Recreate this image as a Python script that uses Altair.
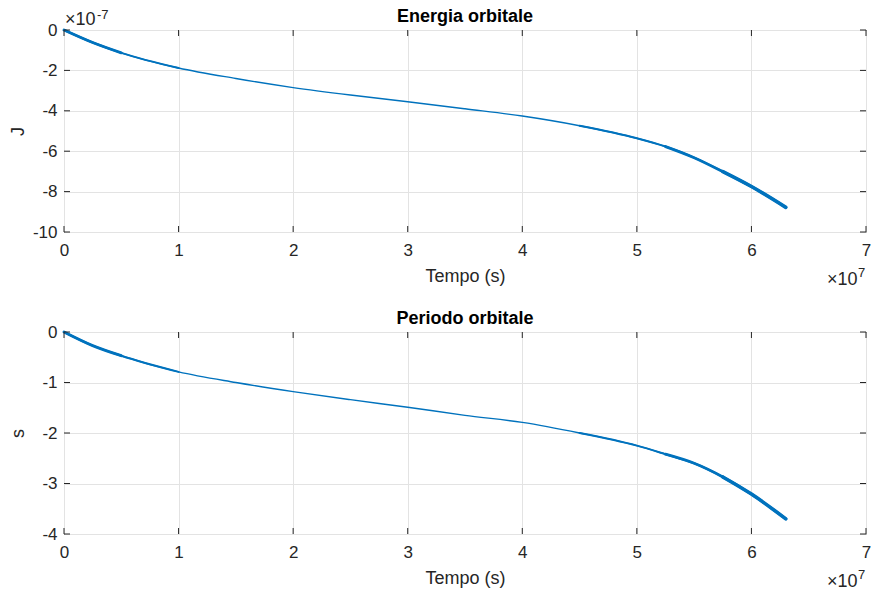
import altair as alt
import pandas as pd

# ---- data (time in units of 1e7 s) ----
t_vals = [0, 0.25, 0.5, 1.0, 1.5, 2.0, 2.5, 3.0, 3.5, 4.0, 4.5, 5.0, 5.25, 5.5, 5.75, 6.0, 6.3]
energy = [0, -0.62, -1.13, -1.88, -2.4, -2.85, -3.22, -3.55, -3.9, -4.26, -4.74, -5.36, -5.77, -6.32, -7.01, -7.75, -8.78]  # x 1e-7 J
period = [0, -0.27, -0.47, -0.79, -1.0, -1.18, -1.34, -1.49, -1.65, -1.79, -2.0, -2.25, -2.42, -2.6, -2.87, -3.21, -3.70]  # s

x_ticks = [0, 1, 2, 3, 4, 5, 6, 7]
energy_ticks = [0, -2, -4, -6, -8, -10]
period_ticks = [0, -1, -2, -3, -4]

title_top = "Energia orbitale"
title_bottom = "Periodo orbitale"
x_title = "Tempo (s)"
y_title_top = "J"
y_title_bottom = "s"
mult_text = ["×10"]
exp_top = ["-7"]
exp_x = ["7"]

# ---- style ----
W, H = 802, 202
AX = "#262626"
GRID = "#e3e3e3"
BLUE = "#0072BD"
FONT = "Liberation Sans"
# (t_lo, t_hi, stroke width) for the visually thicker parts of the curve
segments = [(0, 7, 1.4), (0, 1.0, 2.0), (0, 0.5, 2.9), (4.5, 7, 2.0), (5.25, 7, 2.8), (5.75, 7, 3.6)]


def panel(vals, title, ytitle, yticks, top_exp, title_offset):
    ymin = min(yticks)
    xs = alt.Scale(domain=[min(x_ticks), max(x_ticks)], nice=False, zero=False)
    ys = alt.Scale(domain=[ymin, 0], nice=False, zero=False)
    xaxis = alt.Axis(values=x_ticks, title=x_title, grid=True, gridColor=GRID, domain=False,
                     ticks=False, tickSize=0, labelPadding=10, labelFontSize=17, labelFont=FONT,
                     labelColor=AX, labelFlush=False, labelExpr="'' + datum.value",
                     titleFont=FONT, titleFontSize=18, titleFontWeight="normal", titleColor=AX,
                     titleY=49, titleBaseline="alphabetic")
    yaxis = alt.Axis(values=yticks, title=ytitle, grid=True, gridColor=GRID, domain=False,
                     ticks=False, tickSize=0, labelPadding=7, labelFontSize=17, labelFont=FONT,
                     labelColor=AX, labelFlush=False, labelExpr="'' + datum.value",
                     titleFont=FONT, titleFontSize=18, titleFontWeight="normal", titleColor=AX,
                     titleX=-46, titleY=H / 2, titleBaseline="middle")
    df = pd.DataFrame({"t": t_vals, "v": vals})
    xe = alt.X("t:Q", scale=xs, axis=xaxis)
    ye = alt.Y("v:Q", scale=ys, axis=yaxis)
    layers = []
    for lo, hi, w in segments:
        layers.append(
            alt.Chart(df)
            .transform_filter((alt.datum.t >= lo) & (alt.datum.t <= hi))
            .mark_line(interpolate="monotone", strokeWidth=w, color=BLUE, strokeCap="round")
            .encode(x=xe, y=ye)
        )
    xt = pd.DataFrame({"t": x_ticks})
    yt = pd.DataFrame({"v": yticks})
    layers.append(alt.Chart(xt).mark_rule(color=AX, strokeWidth=1).encode(x=xe, y=alt.value(H), y2=alt.value(H - 6)))
    layers.append(alt.Chart(xt).mark_rule(color=AX, strokeWidth=1).encode(x=xe, y=alt.value(0), y2=alt.value(6)))
    layers.append(alt.Chart(yt).mark_rule(color=AX, strokeWidth=1).encode(y=ye, x=alt.value(0), x2=alt.value(6)))
    layers.append(alt.Chart(yt).mark_rule(color=AX, strokeWidth=1).encode(y=ye, x=alt.value(W), x2=alt.value(W - 6)))
    # x-axis multiplier  x10^7
    layers.append(alt.Chart(pd.DataFrame({"s": mult_text})).mark_text(
        align="left", baseline="alphabetic", font=FONT, fontSize=18, color=AX
    ).encode(text="s:N", x=alt.value(763), y=alt.value(H + 53)))
    layers.append(alt.Chart(pd.DataFrame({"s": exp_x})).mark_text(
        align="left", baseline="alphabetic", font=FONT, fontSize=13, color=AX
    ).encode(text="s:N", x=alt.value(794), y=alt.value(H + 45)))
    if top_exp:
        layers.append(alt.Chart(pd.DataFrame({"s": mult_text})).mark_text(
            align="left", baseline="alphabetic", font=FONT, fontSize=18, color=AX
        ).encode(text="s:N", x=alt.value(1), y=alt.value(-5)))
        layers.append(alt.Chart(pd.DataFrame({"s": top_exp})).mark_text(
            align="left", baseline="alphabetic", font=FONT, fontSize=13, color=AX
        ).encode(text="s:N", x=alt.value(33), y=alt.value(-11)))
    return alt.layer(*layers).properties(
        width=W, height=H,
        title=alt.TitleParams(text=title, fontSize=18, fontWeight="bold", font=FONT,
                              color="#000000", offset=title_offset, anchor="middle"),
    )


top = panel(energy, title_top, y_title_top, energy_ticks, exp_top, -17)
bottom = panel(period, title_bottom, y_title_bottom, period_ticks, None, -5)

chart = (
    alt.vconcat(top, bottom, spacing=19)
    .properties(padding={"left": 8, "top": 7, "right": 0, "bottom": 0}, background="white")
    .configure_view(stroke=AX, strokeWidth=1)
)
chart.save("out.html", embed_options={"renderer": "svg", "actions": False})
